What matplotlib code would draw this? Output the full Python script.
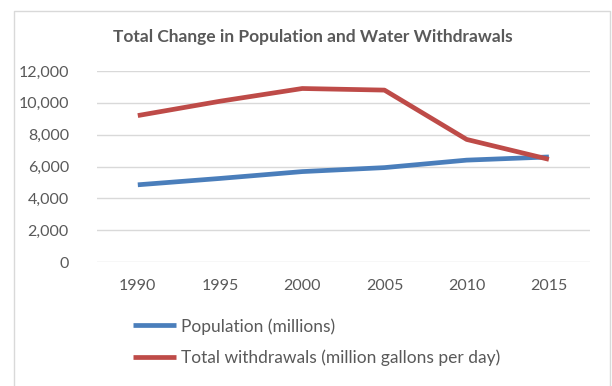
import matplotlib.pyplot as plt
from matplotlib.lines import Line2D
from matplotlib.ticker import FuncFormatter

years = ["1990", "1995", "2000", "2005", "2010", "2015"]
population = [4850, 5250, 5680, 5930, 6400, 6600]
withdrawals = [9200, 10100, 10900, 10800, 7700, 6450]

W, H = 612, 386
plt.rcParams["font.family"] = ["Lato", "DejaVu Sans"]
grey = "#595959"

fig = plt.figure(figsize=(W / 100, H / 100), dpi=100)
# light chart-area frame (left, top, right)
fx = [14 / W, 14 / W, 610 / W, 610 / W]
fy = [0, 1 - 11 / H, 1 - 11 / H, 0]
fig.lines.append(Line2D(fx, fy, transform=fig.transFigure, color="#D9D9D9", lw=1))

ax = fig.add_axes([96.7 / W, 1 - 262 / H, (590 - 96.7) / W, (262 - 71) / H])
x = range(len(years))
ax.plot(x, population, color="#4A7EBB", lw=3.4, solid_capstyle="butt",
        label="Population (millions)", zorder=3)
ax.plot(x, withdrawals, color="#BE4B48", lw=3.4, solid_capstyle="butt",
        label="Total withdrawals (million gallons per day)", zorder=3)

ax.set_xlim(-0.5, len(years) - 0.5)
ax.set_ylim(0, 12000)
ax.set_yticks(range(0, 12001, 2000))
ax.yaxis.set_major_formatter(FuncFormatter(lambda v, p: f"{int(v):,}"))
ax.set_xticks(list(x))
ax.set_xticklabels(years)
ax.grid(axis="y", color="#D9D9D9", lw=1)
ax.set_axisbelow(True)
for s in ax.spines.values():
    s.set_visible(False)
ax.tick_params(length=0, labelsize=11.5, labelcolor=grey)
ax.tick_params(axis="y", pad=20)
ax.tick_params(axis="x", pad=12)

fig.text(313 / W, 1 - 37 / H, "Total Change in Population and Water Withdrawals",
         ha="center", va="center", fontsize=12.5, fontweight="bold", color=grey)

leg = fig.legend(loc="upper left", bbox_to_anchor=(126 / W, 1 - 311 / H),
                 frameon=False, fontsize=12.5, handlelength=2.5, handletextpad=0.25,
                 labelspacing=0.85, borderaxespad=0)
for t in leg.get_texts():
    t.set_color(grey)

fig.savefig("out.png", dpi=100)
